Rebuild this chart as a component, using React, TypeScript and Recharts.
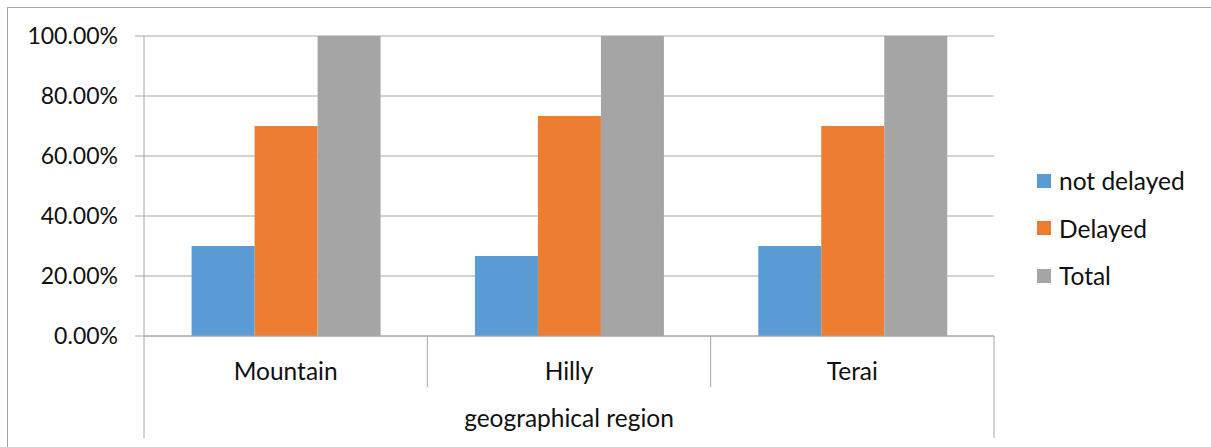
import { BarChart, Bar, XAxis, YAxis, CartesianGrid } from 'recharts'

const regions = ['Mountain', 'Hilly', 'Terai']
const notDelayed = [0.3, 0.267, 0.3]
const delayed = [0.7, 0.733, 0.7]
const total = [1, 1, 1]
const yTicks = [0, 0.2, 0.4, 0.6, 0.8, 1]

const seriesColors = { notDelayed: '#5b9bd5', delayed: '#ed7d31', total: '#a5a5a5' }
const gridColor = '#a6a6a6'
const textColor = '#111'
const font = 'Lato, "Noto Sans", sans-serif'
const fontSize = 23
const labelSize = 24.5

const data = regions.map((region, i) => ({
  region,
  notDelayed: notDelayed[i],
  delayed: delayed[i],
  total: total[i],
}))

const legendItems = [
  { label: 'not delayed', color: seriesColors.notDelayed },
  { label: 'Delayed', color: seriesColors.delayed },
  { label: 'Total', color: seriesColors.total },
]

// width of one category band (plot is 850px wide)
const BAND = 850 / regions.length

function RegionTick(props: any) {
  const { x, y, payload, index } = props
  const half = BAND / 2
  const last = index === regions.length - 1
  return (
    <g>
      <line x1={x - half} x2={x - half} y1={y} y2={y + (index === 0 ? 102 : 51)} stroke={gridColor} strokeWidth={1} />
      {last && <line x1={x + half} x2={x + half} y1={y} y2={y + 102} stroke={gridColor} strokeWidth={1} />}
      <text x={x} y={y + 34} textAnchor="middle" dominantBaseline="central" fill={textColor} fontSize={labelSize} fontFamily={font}>
        {payload.value}
      </text>
    </g>
  )
}

function LegendBox() {
  return (
    <div style={{ position: 'absolute', left: 1037, top: 157, fontFamily: font, fontSize: labelSize, color: textColor }}>
      {legendItems.map((it) => (
        <div key={it.label} style={{ display: 'flex', alignItems: 'center', height: 47.5 }}>
          <span style={{ display: 'inline-block', width: 14, height: 14, background: it.color, marginRight: 8 }} />
          <span>{it.label}</span>
        </div>
      ))}
    </div>
  )
}

export default function App() {
  return (
    <div style={{ position: 'absolute', left: 0, top: 0, width: 1211, height: 447, background: '#fff', overflow: 'hidden' }}>
      <div style={{ position: 'absolute', left: 7, top: 7, width: 1300, height: 500, borderTop: `1px solid ${gridColor}`, borderLeft: `1px solid ${gridColor}` }} />
      <BarChart
        width={1211} height={447} data={data}
        margin={{ top: 36, right: 217, bottom: 0, left: 8 }}
        barCategoryGap="16.8%" barGap={0}
      >
        <CartesianGrid stroke={gridColor} vertical={false} />
        <XAxis
          dataKey="region" height={111} axisLine={{ stroke: gridColor }} tickLine={false}
          tickSize={0} tickMargin={0} tick={<RegionTick />} interval={0}
          label={{ value: 'geographical region', position: 'insideBottom', offset: 20, fill: textColor, fontSize: labelSize, fontFamily: font }}
        />
        <YAxis
          width={136} domain={[0, 1]} ticks={yTicks} interval={0}
          tickFormatter={(v: number) => (v * 100).toFixed(2) + '%'}
          axisLine={{ stroke: gridColor }} tickLine={{ stroke: gridColor }}
          tickSize={9} tickMargin={17}
          tick={{ fill: textColor, fontSize, fontFamily: font }}
        />
        <Bar dataKey="notDelayed" name="not delayed" fill={seriesColors.notDelayed} isAnimationActive={false} />
        <Bar dataKey="delayed" name="Delayed" fill={seriesColors.delayed} isAnimationActive={false} />
        <Bar dataKey="total" name="Total" fill={seriesColors.total} isAnimationActive={false} />
      </BarChart>
      <LegendBox />
    </div>
  )
}
